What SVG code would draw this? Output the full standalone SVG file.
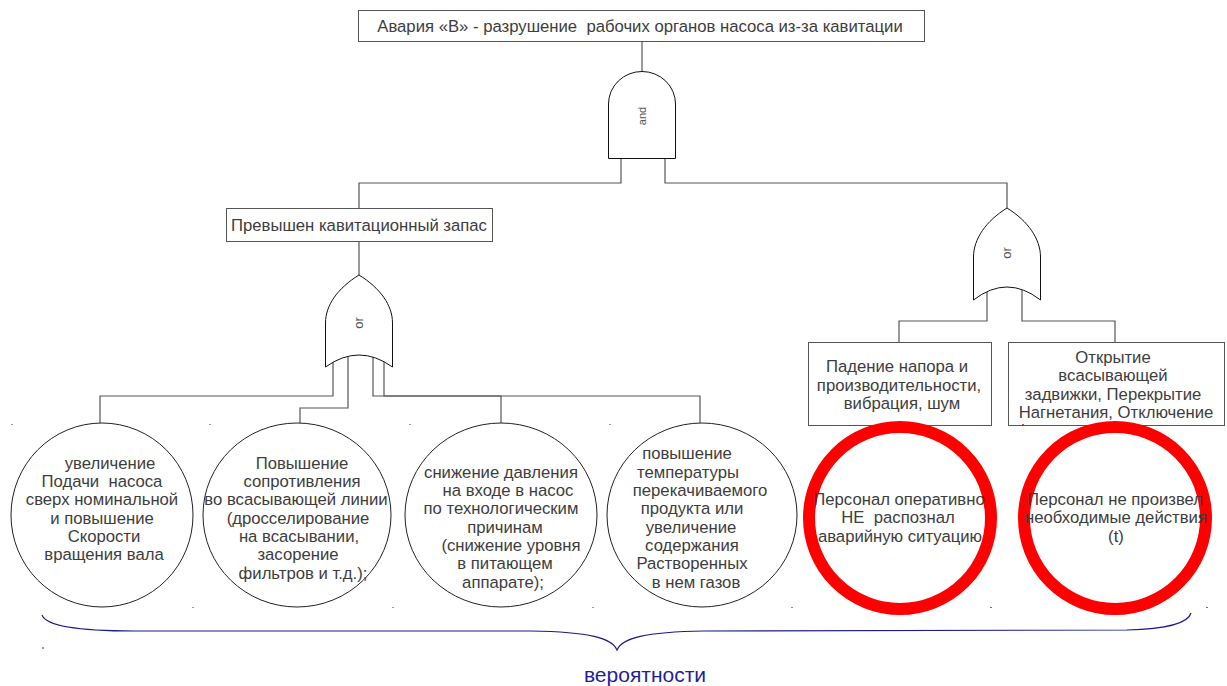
<svg xmlns="http://www.w3.org/2000/svg" width="1227" height="686" viewBox="0 0 1227 686">
<style>
.box{fill:#fff;stroke:#555;stroke-width:1}
.gate{fill:#fff;stroke:#111;stroke-width:1}
.ev{fill:#fff;stroke:#222;stroke-width:1}
.red{fill:none;stroke:#ff0000;stroke-width:12}
.ln{fill:none;stroke:#555;stroke-width:1.2}
.t{font-family:"Liberation Sans",Arial,sans-serif;font-size:16.7px;fill:#3d3d3d;text-anchor:middle}
.g{font-family:"Liberation Sans",Arial,sans-serif;font-size:11px;fill:#555;text-anchor:middle}
.dot{fill:#999}
</style>
<rect width="1227" height="686" fill="#fff"/>
<g id="connectors">
<path class="ln" d="M642,42 V72"/>
<path class="ln" d="M621,150 V183 H359 V208"/>
<path class="ln" d="M665,150 V183 H1007 V208"/>
<path class="ln" d="M359,242 V275"/>
<path class="ln" d="M333,355 V396 H100 V423"/>
<path class="ln" d="M348,350 V408 H300 V423"/>
<path class="ln" d="M373,350 V396 H501 V423"/>
<path class="ln" d="M384,355 V396 H700 V423"/>
<path class="ln" d="M987,290 V321 H899 V342"/>
<path class="ln" d="M1022,290 V321 H1115 V342"/>
</g>
<g id="top">
<rect class="box" x="358.5" y="10.5" width="566" height="31"/>
<text class="t" x="640" y="32" xml:space="preserve">Авария «В» - разрушение  рабочих органов насоса из-за кавитации</text>
</g>
<g id="and-gate">
<path class="gate" d="M608.5,158.5 V104 A33.5,32.5 0 0 1 675.5,104 V158.5 Z"/>
<text class="g" transform="translate(646,116) rotate(-90)">and</text>
</g>
<g id="cav">
<rect class="box" x="226.5" y="208.5" width="266" height="33"/>
<text class="t" x="359" y="231">Превышен кавитационный запас</text>
</g>
<g id="or-left">
<path class="gate" d="M359,275 C338,288 325.5,305 325.5,323 V367 Q359,343 392.5,367 V323 C392.5,305 380,288 359,275 Z"/>
<text class="g" transform="translate(363,323) rotate(-90)" style="font-size:13px">or</text>
</g>
<g id="or-right">
<path class="gate" d="M1007,208 C986,221 973.5,239 973.5,257 V300 Q1007,274 1040.5,300 V257 C1040.5,239 1028,221 1007,208 Z"/>
<text class="g" transform="translate(1011,253) rotate(-90)" style="font-size:13px">or</text>
</g>
<g id="e1">
<ellipse class="ev" cx="102" cy="515" rx="91" ry="92"/>
<text class="t" xml:space="preserve"><tspan x="110" y="469">увеличение</tspan><tspan x="102" y="487">Подачи  насоса</tspan><tspan x="102" y="505">сверх номинальной</tspan><tspan x="102" y="524">и повышение</tspan><tspan x="104" y="542">Скорости</tspan><tspan x="104" y="560">вращения вала</tspan></text>
</g>
<g id="e2">
<ellipse class="ev" cx="297" cy="515" rx="94" ry="92"/>
<text class="t"><tspan x="302" y="469">Повышение</tspan><tspan x="302" y="487">сопротивления</tspan><tspan x="296" y="505">во всасывающей линии</tspan><tspan x="298" y="524">(дросселирование</tspan><tspan x="299" y="542">на всасывании,</tspan><tspan x="298" y="560">засорение</tspan><tspan x="303" y="579">фильтров и т.д.);</tspan></text>
</g>
<g id="e3">
<ellipse class="ev" cx="501" cy="515" rx="96" ry="92"/>
<text class="t"><tspan x="501" y="478">снижение давления</tspan><tspan x="508" y="496">на входе в насос</tspan><tspan x="501" y="514">по технологическим</tspan><tspan x="505" y="533">причинам</tspan><tspan x="511" y="551">(снижение уровня</tspan><tspan x="505" y="569">в питающем</tspan><tspan x="503" y="588">аппарате);</tspan></text>
</g>
<g id="e4">
<ellipse class="ev" cx="702" cy="515" rx="95" ry="92"/>
<text class="t"><tspan x="687" y="459">повышение</tspan><tspan x="688" y="478">температуры</tspan><tspan x="700" y="496">перекачиваемого</tspan><tspan x="692" y="514">продукта или</tspan><tspan x="691" y="533">увеличение</tspan><tspan x="692" y="551">содержания</tspan><tspan x="692" y="569">Растворенных</tspan><tspan x="696" y="588">в нем газов</tspan></text>
</g>
<g id="b1">
<rect class="box" x="808.5" y="342.5" width="183" height="83"/>
<text class="t"><tspan x="897" y="372">Падение напора и</tspan><tspan x="899" y="391">производительности,</tspan><tspan x="902" y="409">вибрация, шум</tspan></text>
</g>
<g id="b2">
<rect class="box" x="1008.5" y="342.5" width="216" height="83"/>
<text class="t"><tspan x="1113" y="363">Открытие</tspan><tspan x="1113" y="381">всасывающей</tspan><tspan x="1113" y="400">задвижки, Перекрытие</tspan><tspan x="1116" y="418">Нагнетания, Отключение</tspan></text>
</g>
<g id="r1">
<circle class="red" cx="900" cy="518" r="91"/>
<text class="t" xml:space="preserve"><tspan x="899" y="505">Персонал оперативно</tspan><tspan x="898" y="523">НЕ  распознал</tspan><tspan x="900" y="542">аварийную ситуацию</tspan></text>
</g>
<g id="r2">
<circle class="red" cx="1115" cy="518" r="91"/>
<text class="t"><tspan x="1115" y="505">Персонал не произвел</tspan><tspan x="1116" y="523">необходимые действия</tspan><tspan x="1116" y="542">(t)</tspan></text>
</g>
<g id="marks">
<rect class="dot" x="11" y="424" width="2" height="1"/>
<rect class="dot" x="209" y="424" width="2" height="1"/>
<rect class="dot" x="409" y="424" width="2" height="1"/>
<rect class="dot" x="609" y="424" width="2" height="1"/>
<rect x="1022" y="424" width="2" height="1" fill="#f33"/>
<rect class="dot" x="192" y="607" width="2" height="1"/>
<rect class="dot" x="392" y="607" width="2" height="1"/>
<rect class="dot" x="592" y="607" width="2" height="1"/>
<rect class="dot" x="791" y="607" width="2" height="1"/>
<rect x="990" y="607" width="2" height="1" fill="#f33"/>
<rect x="1206" y="607" width="2" height="1" fill="#f33"/>
<rect x="42" y="647" width="2" height="2" fill="#99a"/>
</g>
<g id="brace">
<path d="M42,615 C46,626 80,631 134,631 L531,631 C590,632 612,638 617,650 C622,638 645,632 704,631 L1127,630 C1165,629 1188,624 1191,613" fill="none" stroke="#1a1a8a" stroke-width="1.2"/>
<text x="645" y="682" style="font-family:'Liberation Sans',Arial,sans-serif;font-size:21px;fill:#1f1f99;text-anchor:middle">вероятности</text>
</g>
</svg>
